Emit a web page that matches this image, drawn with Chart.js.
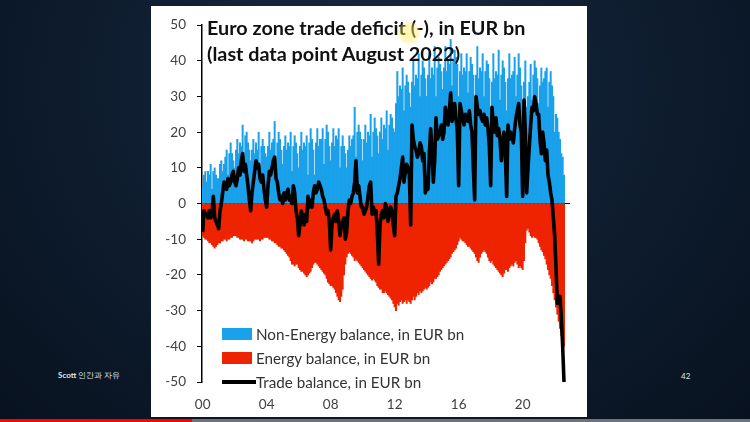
<!DOCTYPE html>
<html>
<head>
<meta charset="utf-8">
<script src="https://cdn.jsdelivr.net/npm/chart.js@4"></script>
<style>
  html, body { margin: 0; padding: 0; }
  body {
    width: 750px; height: 422px; overflow: hidden; position: relative;
    background: radial-gradient(ellipse at 50% 20%, #1a2c44 0%, #0f1e31 45%, #08121f 100%);
    font-family: Lato, "Open Sans", sans-serif;
  }
  #panel { position: absolute; left: 151px; top: 6px; width: 436px; height: 411px; background: #fff; }
  #grafico { position: absolute; left: 0; top: 0; }
  #titulo {
    position: absolute; left: 56px; top: 8px; font-weight: bold; font-size: 19.8px;
    line-height: 26px; color: #111; white-space: nowrap;
  }
  #legenda { position: absolute; left: 71px; top: 316px; font-size: 15.2px; color: #333; }
  .item { height: 24px; display: flex; align-items: center; white-space: nowrap; }
  .caixa { width: 30px; height: 12px; margin-right: 4px; }
  .linha { width: 34px; height: 4px; background: #000; margin-right: 0; }
  #cursor {
    position: absolute; left: 398px; top: 22px; width: 22px; height: 22px; border-radius: 50%;
    background: radial-gradient(circle, rgba(255,235,90,0.55) 0%, rgba(255,235,90,0.35) 60%, rgba(255,235,90,0) 100%);
  }
  .rodape { position: absolute; color: #dfe6ee; font-size: 8px; }
  #barra { position: absolute; left: 0; top: 419px; width: 750px; height: 3px; background: #6d737a; }
  #barra div { width: 192px; height: 3px; background: #f00; }
</style>
</head>
<body>
<div id="panel">
  <canvas id="grafico" width="436" height="411"></canvas>
  <div id="titulo">Euro zone trade deficit (-), in EUR bn<br>(last data point August 2022)</div>
  <div id="legenda"></div>
</div>
<div id="cursor"></div>
<div class="rodape" style="left:58px; top:370px;"><b>Scott</b> 인간과 자유</div>
<div class="rodape" style="left:681px; top:371px;">42</div>
<div id="barra"><div></div></div>

<script>
// Dados mensais, jan 2000 - ago 2022 (EUR bn)
const years = ['2000','2001','2002','2003','2004','2005','2006','2007','2008','2009','2010','2011',
               '2012','2013','2014','2015','2016','2017','2018','2019','2020','2021','2022'];
const months = ['01','02','03','04','05','06','07','08','09','10','11','12'];
const tickYears = ['00','04','08','12','16','20'];

const nonEnergy = [
  5, 8, 9, 6, 9, 8, 11, 4, 9, 10, 8, 7,
  7, 11, 12, 9, 11, 13, 15, 8, 14, 17, 14, 12,
  10, 15, 18, 14, 17, 16, 22, 12, 19, 20, 17, 15,
  12, 15, 18, 14, 17, 15, 20, 10, 16, 18, 16, 14,
  13, 16, 20, 15, 17, 18, 23, 12, 17, 20, 18, 15,
  11, 16, 19, 15, 17, 16, 20, 9, 16, 19, 17, 14,
  10, 16, 20, 15, 17, 16, 19, 8, 17, 21, 18, 15,
  8, 17, 21, 16, 18, 18, 21, 11, 18, 22, 20, 16,
  12, 17, 21, 16, 19, 18, 21, 10, 16, 19, 16, 14,
  10, 15, 19, 16, 18, 19, 27, 13, 20, 22, 20, 18,
  12, 18, 22, 17, 20, 19, 25, 13, 20, 24, 21, 19,
  14, 20, 24, 18, 22, 21, 26, 15, 22, 25, 24, 21,
  20, 28, 37, 30, 33, 32, 38, 26, 33, 36, 34, 31,
  27, 34, 40, 33, 36, 35, 42, 30, 36, 40, 38, 35,
  30, 36, 42, 35, 38, 36, 44, 30, 38, 41, 39, 37,
  32, 38, 44, 37, 40, 39, 46, 33, 40, 43, 41, 39,
  30, 37, 42, 36, 38, 37, 42, 31, 37, 41, 39, 36,
  28, 36, 44, 35, 38, 37, 42, 30, 37, 40, 39, 35,
  27, 34, 42, 35, 37, 36, 43, 29, 36, 40, 38, 34,
  26, 35, 42, 35, 36, 37, 41, 30, 36, 42, 38, 33,
  26, 34, 40, 27, 30, 34, 39, 29, 36, 40, 38, 35,
  28, 33, 38, 34, 35, 37, 38, 27, 34, 37, 33, 30,
  20, 25, 24, 20, 18, 14, 13, 8
];

const energy = [
  -9, -9.5, -10, -10, -10.5, -11, -11, -11.5, -12, -12.5, -12, -11.5,
  -11, -11, -10.5, -10.5, -10, -10, -10.5, -10, -10, -9.5, -9.5, -9,
  -9, -9, -9.5, -9.5, -10, -10, -10, -10.5, -10, -10, -10.5, -10.5,
  -10.5, -11, -10.5, -10, -10, -10, -10, -10.5, -10, -10, -9.5, -9.5,
  -9.5, -9.5, -10, -10, -10.5, -10.5, -11, -11, -11.5, -12, -12, -12.5,
  -12.5, -13, -13.5, -14, -14.5, -15, -16, -17, -17, -17.5, -17, -17,
  -18, -18.5, -19, -19, -19.5, -20, -20.5, -20, -19.5, -19, -18, -17,
  -16.5, -16.5, -17, -17.5, -18, -18.5, -19, -19.5, -20, -21, -22, -22.5,
  -23, -23, -23.5, -24, -25, -26, -27, -27.5, -26, -24, -20, -17,
  -15, -14, -13.5, -14, -14.5, -15, -16, -15.5, -16, -16.5, -17, -17.5,
  -18, -18.5, -19, -19.5, -20, -20.5, -21, -21.5, -21, -21.5, -22, -23,
  -23.5, -24, -24, -25, -25, -24.5, -25, -25.5, -26, -26.5, -27, -28,
  -29, -30, -28, -28.5, -27.5, -27, -28, -27.5, -27, -28, -27, -27.5,
  -28, -27, -26, -27, -26, -25, -25.5, -24.5, -25, -24.5, -24, -23.5,
  -24, -23.5, -23, -22, -22.5, -22, -21, -21, -20.5, -20, -19, -18.5,
  -18, -17.5, -17, -16.5, -16, -15.5, -15, -14, -13.5, -13, -12.5, -11.5,
  -10.5, -9.5, -10, -10.5, -10.5, -11, -11.5, -12, -12, -12.5, -13, -13.5,
  -14, -15, -16, -16.5, -15, -14, -13.5, -13, -13.5, -14, -15, -16,
  -16.5, -16, -17, -17.5, -18, -18.5, -19, -19.5, -20, -20.5, -19.5, -18.5,
  -18.5, -19, -18, -17.5, -17, -17.5, -16.5, -16, -17, -18, -17.5, -18,
  -18.5, -16, -11, -7.5, -7, -8, -9, -9.5, -9, -9.5, -9.5, -10,
  -11, -12, -13, -13.5, -14.5, -15.5, -17, -18.5, -20, -21, -23, -25,
  -27, -29, -31, -33, -35, -37, -39, -40
];

const trade = [
  -8, -2, -3, -3, -4, -2, -4, -3, 2, -4, -5, -6,
  -7, -2, 0, 3, 6, 5, 4, 7, 5, 6, 8, 9,
  6, 5, 7, 10, 8, 12, 14, 9, 11, 8, 5, 1,
  -2, 3, 6, 9, 12, 10, 11, 7, 6, 8, 4, 1,
  -1, 5, 9, 8, 10, 12, 13, 7, 6, 3, 1, 2,
  0, 3, 1, 3, 4, 1, 2, 0, 5, 3, -2, -4,
  -9, -6, -2, -4, -6, -3, -5, 2, -1, 1, -1, 3,
  5, 3, 4, 6, 5, 4, 2, 1, -1, -3, -2, -5,
  -13, -6, -4, -3, -5, -2, -5, -9, -6, -5, -4, -10,
  -8, -2, 1, 0, 2, 3, 6, 12, 3, 5, 2, -1,
  -1, -3, -2, -1, 2, 5, 6, -3, -1, -3, -2, -8,
  -17, -6, -3, -2, -4, 0, -1, -5, -3, -1, -2, -6,
  -9, 2, 3, 5, 7, 10, 13, 6, 9, 11, 10, 8,
  -6, 22, 18, 16, 15, 13, 14, 17, 16, 12, 14, 3,
  5, 4, 14, 21, 15, 6, 12, 24, 18, 19, 20, 22,
  18, 20, 27, 24, 22, 26, 31, 23, 25, 28, 24, 20,
  5, 28, 26, 24, 22, 25, 24, 23, 26, 22, 20, 10,
  1, 30, 27, 25, 26, 24, 23, 25, 22, 24, 21, 16,
  5, 27, 22, 20, 24, 19, 21, 18, 12, 17, 20, 14,
  2, 22, 18, 20, 19, 17, 21, 24, 26, 28, 22, 20,
  2, 29, 20, 3, 10, 16, 22, 27, 26, 30, 28, 25,
  25, 18, 14, 20, 17, 12, 15, 8, 6, 3, 1, -4,
  -9, -18, -28, -27, -26, -32, -40, -50
];

const seriesLabels = ['Non-Energy balance, in EUR bn', 'Energy balance, in EUR bn', 'Trade balance, in EUR bn'];
const blue = '#19a2ea';
const red = '#ee2400';

// Rótulos mensais (o eixo vai até dez 2022)
const labels = [];
years.forEach((y) => months.forEach((m) => labels.push(y + '-' + m)));

function tickLabel(lbl) {
  const yy = lbl.slice(2, 4);
  return lbl.slice(5) === '01' && tickYears.includes(yy) ? yy : '';
}

const ctx = document.getElementById('grafico').getContext('2d');
new Chart(ctx, {
  data: {
    labels: labels,
    datasets: [
      { type: 'line', label: seriesLabels[2], data: trade, borderColor: '#000', borderWidth: 3.6,
        pointRadius: 0, tension: 0, borderJoinStyle: 'round', order: 0 },
      { type: 'bar', label: seriesLabels[0], data: nonEnergy, backgroundColor: blue,
        borderWidth: 0, barPercentage: 1, categoryPercentage: 1, order: 1 },
      { type: 'bar', label: seriesLabels[1], data: energy, backgroundColor: red,
        borderWidth: 0, barPercentage: 1, categoryPercentage: 1, order: 1 },
    ],
  },
  options: {
    responsive: false,
    animation: false,
    layout: { padding: { top: 19, right: 17, left: 0, bottom: 0 } },
    plugins: { legend: { display: false }, tooltip: { enabled: false } },
    scales: {
      x: {
        stacked: true,
        grid: { display: false, drawTicks: false },
        border: { display: false },
        ticks: {
          autoSkip: false, maxRotation: 0, minRotation: 0, padding: 15,
          color: '#404040', font: { family: 'Lato', size: 13.5 },
          callback: function (value) { return tickLabel(this.getLabelForValue(value)); },
        },
        afterFit: (scale) => { scale.height = 35; },
      },
      y: {
        min: -50, max: 50,
        border: { display: true, color: '#000', width: 1.5 },
        grid: {
          color: (c) => (c.tick && c.tick.value === 0 ? '#000' : 'rgba(0,0,0,0)'),
          lineWidth: 1, tickColor: '#000', tickLength: 5, drawTicks: true,
        },
        ticks: { stepSize: 10, padding: 11, color: '#404040', font: { family: 'Lato', size: 13.5 } },
        afterFit: (scale) => { scale.width = 51; },
      },
    },
  },
});

// Legenda manual dentro da área do gráfico
const legenda = document.getElementById('legenda');
legenda.innerHTML = `
  <div class="item"><span class="caixa" style="background:${blue}"></span>${seriesLabels[0]}</div>
  <div class="item"><span class="caixa" style="background:${red}"></span>${seriesLabels[1]}</div>
  <div class="item"><span class="linha"></span>${seriesLabels[2]}</div>
`;
</script>
</body>
</html>
